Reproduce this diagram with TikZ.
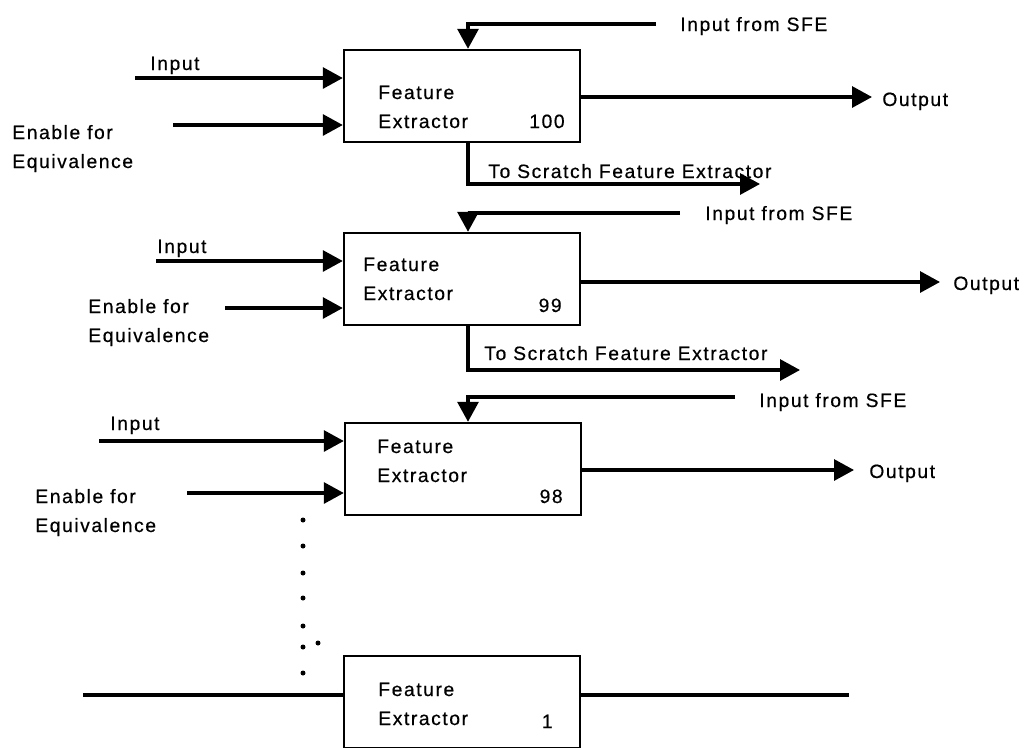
\documentclass[tikz,border=0pt]{standalone}
\usepackage{fontspec}
\setmainfont[LetterSpace=8, FakeBold=0.5]{Liberation Sans}
\usetikzlibrary{arrows.meta,calc}

\begin{document}
\begin{tikzpicture}[x=0.02cm, y=-0.02cm, every node/.style={font=\fontsize{11}{16}\selectfont, inner sep=0pt},
	>={Triangle[length=4mm, width=4.2mm]},
	sig/.style={line width=1.8pt},
	febox/.style={draw, line width=1.4pt, minimum width=4.72cm, minimum height=1.84cm},
	lab/.style={anchor=base west},
	twoline/.style={anchor=base west, align=left, font=\fontsize{11}{16.5}\selectfont},
	num/.style={anchor=base east}]
	\useasboundingbox (0,0) rectangle (1029,748);
	% the four extractors
	\node[febox] (fe100) at (462,96) {};
	\node[febox] (fe99) at (462,279) {};
	\node[febox] (fe98) at (463,469) {};
	\node[febox] (fe1) at (462,702) {};
	\node[twoline] (n100) at (378,128) {Feature\\Extractor};
	\node[num] (k100) at (565,128) {100};
	\node[twoline] (n99) at (363,300) {Feature\\Extractor};
	\node[num] (k99) at (562,312) {99};
	\node[twoline] (n98) at (377,482) {Feature\\Extractor};
	\node[num] (k98) at (563,503) {98};
	\node[twoline] (n1) at (378,725) {Feature\\Extractor};
	\node[num] (k1) at (553,728) {1};
	% extractor 100
	\coordinate (in100) at (135,78);
	\coordinate (en100) at (173,125);
	\coordinate (sfe100) at (656,24);
	\coordinate (out100) at (872,97);
	\coordinate (scr100) at (760,184);
	\draw[sig,->] (in100) -- (in100 -| fe100.west);
	\draw[sig,->] (en100) -- (en100 -| fe100.west);
	\draw[sig,->] (sfe100) -| ($(fe100.north)+(6,0)$);
	\draw[sig,->] (out100 -| fe100.east) -- (out100);
	\draw[sig,->] ($(fe100.south)+(6,0)$) |- (scr100);
	\node[lab] (lin100) at (150,70) {Input};
	\node[twoline] (len100) at (12,168) {Enable for\\Equivalence};
	\node[lab] (lsfe100) at (680,31) {Input from SFE};
	\node[lab] (lout100) at (882,106) {Output};
	\node[lab] (lscr100) at (488,178) {To Scratch Feature Extractor};
	% extractor 99
	\coordinate (in99) at (156,261);
	\coordinate (en99) at (225,308);
	\coordinate (sfe99) at (680,213);
	\coordinate (out99) at (940,282);
	\coordinate (scr99) at (800,370);
	\draw[sig,->] (in99) -- (in99 -| fe99.west);
	\draw[sig,->] (en99) -- (en99 -| fe99.west);
	\draw[sig,->] (sfe99) -| ($(fe99.north)+(6,0)$);
	\draw[sig,->] (out99 -| fe99.east) -- (out99);
	\draw[sig,->] ($(fe99.south)+(6,0)$) |- (scr99);
	\node[lab] (lin99) at (157,253) {Input};
	\node[twoline] (len99) at (88,342) {Enable for\\Equivalence};
	\node[lab] (lsfe99) at (705,220) {Input from SFE};
	\node[lab] (lout99) at (953,290) {Output};
	\node[lab] (lscr99) at (484,360) {To Scratch Feature Extractor};
	% extractor 98
	\coordinate (in98) at (99,441);
	\coordinate (en98) at (187,493);
	\coordinate (sfe98) at (735,397);
	\coordinate (out98) at (854,470);
	\draw[sig,->] (in98) -- (in98 -| fe98.west);
	\draw[sig,->] (en98) -- (en98 -| fe98.west);
	\draw[sig,->] (sfe98) -| ($(fe98.north)+(5,0)$);
	\draw[sig,->] (out98 -| fe98.east) -- (out98);
	\node[lab] (lin98) at (110,430) {Input};
	\node[twoline] (len98) at (35,532) {Enable for\\Equivalence};
	\node[lab] (lsfe98) at (759,407) {Input from SFE};
	\node[lab] (lout98) at (869,478) {Output};
	% dots down to extractor 1
	\foreach \y in {520,546,573,598,626,647,673} {\fill (303,\y) circle (0.05cm);}
	\fill (318,643) circle (0.05cm);
	% extractor 1
	\coordinate (lft1) at (83,695);
	\coordinate (rgt1) at (849,695);
	\draw[sig] (lft1) -- (lft1 -| fe1.west);
	\draw[sig] (rgt1 -| fe1.east) -- (rgt1);
\end{tikzpicture}
\end{document}
